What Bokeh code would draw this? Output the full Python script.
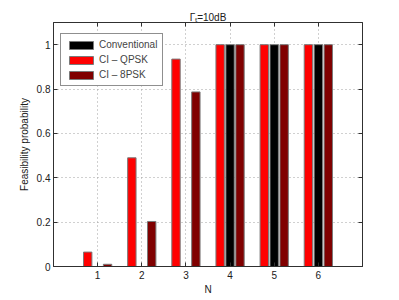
from bokeh.plotting import figure
from bokeh.models import (ColumnDataSource, FixedTicker, LinearAxis, Legend,
                          LegendItem, Range1d, CustomJSTickFormatter)
from bokeh.embed import file_html
from bokeh.resources import INLINE

N = [1, 2, 3, 4, 5, 6]
conventional = [0.0, 0.0, 0.0, 1.0, 1.0, 1.0]
ci_qpsk = [0.065, 0.49, 0.935, 1.0, 1.0, 1.0]
ci_8psk = [0.01, 0.203, 0.787, 1.0, 1.0, 1.0]
y_ticks = [0, 0.2, 0.4, 0.6, 0.8, 1.0]
series_names = ["Conventional", "CI \u2013 QPSK", "CI \u2013 8PSK"]
colors = ["#000000", "#ff0000", "#800000"]
offsets = [0.0, -0.225, 0.225]
title_text = "\u0393\u209c=10dB"

FONT = "Liberation Sans"

p = figure(width=399, height=300, output_backend="svg", toolbar_location=None,
           x_range=Range1d(0, 7), y_range=Range1d(0, 1.1),
           min_border_left=53, min_border_right=37, min_border_top=22,
           min_border_bottom=34, title=title_text)
p.title.text_font = FONT
p.title.text_font_size = "7.5pt"
p.title.text_font_style = "normal"
p.title.text_color = "#202020"
p.title.align = "center"
p.title.standoff = 0
p.outline_line_color = "#303030"
p.background_fill_color = "white"
p.border_fill_color = "white"

renderers = []
for name, vals, col, off in zip(series_names, [conventional, ci_qpsk, ci_8psk], colors, offsets):
    src = ColumnDataSource(dict(x=[n + off for n in N], top=vals))
    r = p.vbar(x="x", top="top", bottom=0, width=0.19, source=src,
               fill_color=col, line_color="#7a7a7a", line_width=1)
    renderers.append(r)

# axes
xa = p.xaxis[0]
ya = p.yaxis[0]
xa.ticker = FixedTicker(ticks=N)
ya.ticker = FixedTicker(ticks=y_ticks)
ya.major_label_overrides = {0: "0", 1: "1"}
for ax in (xa, ya):
    ax.major_tick_in = 4
    ax.major_tick_out = 0
    ax.minor_tick_in = 0
    ax.minor_tick_out = 0
    ax.axis_line_color = "#303030"
    ax.major_tick_line_color = "#303030"
    ax.major_label_text_font = FONT
    ax.major_label_text_font_size = "7.5pt"
    ax.major_label_text_color = "#202020"
    ax.axis_label_text_font = FONT
    ax.axis_label_text_font_size = "7.5pt"
    ax.axis_label_text_font_style = "normal"
    ax.axis_label_text_color = "#202020"
xa.axis_label = "N"
ya.axis_label = "Feasibility probability"
xa.axis_label_standoff = 2
ya.axis_label_standoff = 4
xa.major_label_standoff = 4
ya.major_label_standoff = 3

blank = CustomJSTickFormatter(code="return ''")
for loc, ticks, so in (("right", y_ticks, 0), ("above", N, 6)):
    a = LinearAxis(ticker=FixedTicker(ticks=ticks), formatter=blank,
                   major_tick_in=4, major_tick_out=0, minor_tick_in=0, minor_tick_out=0,
                   axis_line_color="#303030", major_tick_line_color="#303030",
                   major_label_standoff=so)
    p.add_layout(a, loc)

p.xgrid.ticker = FixedTicker(ticks=N)
p.ygrid.ticker = FixedTicker(ticks=y_ticks)
for g in (p.xgrid[0], p.ygrid[0]):
    g.grid_line_color = "#a0a0a0"
    g.grid_line_dash = "1 3"
    g.grid_line_width = 1

legend = Legend(items=[LegendItem(label=n, renderers=[r]) for n, r in zip(series_names, renderers)],
                location=(7, 180))
legend.label_text_font = FONT
legend.label_text_font_size = "7.5pt"
legend.glyph_width = 30
legend.glyph_height = 10
legend.label_standoff = 3
legend.spacing = 4
legend.padding = 5
legend.margin = 0
legend.border_line_color = "#202020"
legend.border_line_width = 1
legend.background_fill_alpha = 1
p.add_layout(legend)

open("out.html", "w").write(file_html(p, INLINE))
